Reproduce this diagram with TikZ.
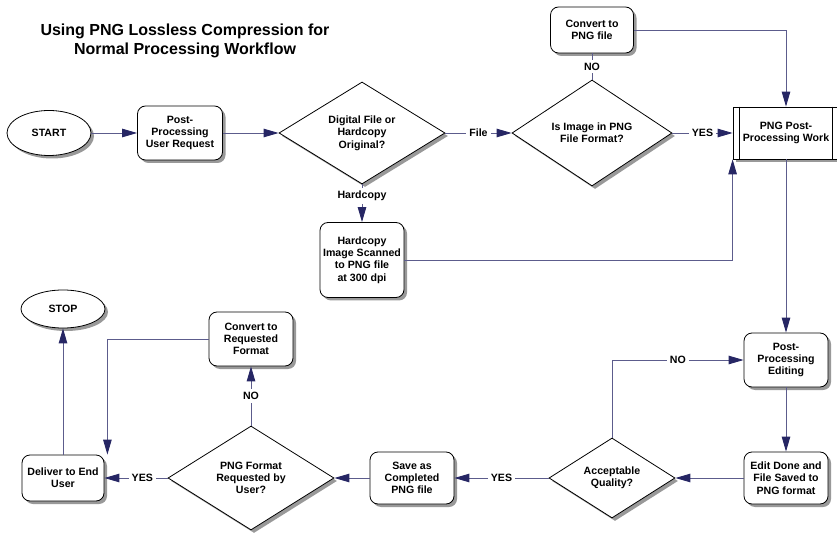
\documentclass[tikz,border=0pt]{standalone}
\usepackage{fontspec}
\setmainfont{Liberation Sans}
\usetikzlibrary{shapes.geometric,shadows,arrows.meta}
\definecolor{flowline}{RGB}{92,92,140}
\definecolor{flowhead}{RGB}{38,38,100}

\begin{document}
\begin{tikzpicture}[x=1pt,y=-1pt]

\tikzset{
    base/.style={
        draw,
        fill=white,
        line width=0.8pt,
        font=\bfseries\fontsize{10.6}{12.3}\selectfont,
        align=center,
        inner sep=0pt,
        drop shadow={shadow xshift=3pt,shadow yshift=-3pt,fill=gray!80,opacity=1},
    },
    term/.style={base, shape=ellipse, minimum width=84pt, minimum height=#1},
    proc/.style args={#1 and #2}{
        base,
        rounded corners=8pt,
        minimum width=#1,
        minimum height=#2,
    },
    dec/.style args={#1 and #2}{
        base,
        shape=diamond,
        minimum width=#1,
        minimum height=#2,
    },
    flow/.style={
        draw=flowline,
        line width=0.9pt,
        -{Triangle[length=15pt,width=8.5pt,color=flowhead]}
    },
    lbl/.style={fill=white, inner sep=3pt, font=\bfseries\fontsize{10.6}{12.3}\selectfont}
}

\useasboundingbox (0,0) rectangle (837,534);

\node(title) [font=\bfseries\fontsize{16}{19}\selectfont, align=center] at (185,41) {Using PNG Lossless Compression for\\Normal Processing Workflow};

% top row
\node(start) [term=45pt] at (49,133) {START};
\node(request) [proc=85pt and 54pt] at (180,133) {Post-\\Processing\\User Request};
\node(origin) [dec=166pt and 102pt] at (362,133) {Digital File or\\Hardcopy\\Original?};
\node(ispng) [dec=160pt and 106pt] at (592,133) {Is Image in PNG\\File Format?};
\node(topng) [proc=83pt and 46pt] at (592,30) {Convert to\\PNG file};
\node(scan) [proc=84pt and 75pt] at (362,260) {Hardcopy\\Image Scanned\\to PNG file\\at 300 dpi};
\node(work) [base, minimum width=106pt, minimum height=52pt] at (786,133) {PNG Post-\\Processing Work};
\draw[line width=1.3pt] ([xshift=7pt]work.north west) -- ([xshift=7pt]work.south west);
\draw[line width=1.3pt] ([xshift=-7pt]work.north east) -- ([xshift=-7pt]work.south east);

% bottom row
\node(edit) [proc=84pt and 54pt] at (786,360) {Post-\\Processing\\Editing};
\node(saved) [proc=84pt and 52pt] at (786,478) {Edit Done and\\File Saved to\\PNG format};
\node(quality) [dec=126pt and 80pt] at (612,478) {Acceptable\\Quality?};
\node(complete) [proc=84pt and 52pt] at (412,478) {Save as\\Completed\\PNG file};
\node(format) [dec=166pt and 104pt] at (251,478) {PNG Format\\Requested by\\User?};
\node(convert) [proc=84pt and 54pt] at (251,339) {Convert to\\Requested\\Format};
\node(deliver) [proc=82pt and 46pt] at (63,478) {Deliver to End\\User};
\node(stop) [term=38pt] at (63,309) {STOP};

\draw[flow] (start) -- (request);
\draw[flow] (request) -- (origin);
\draw[flow] (origin) -- node[lbl] {File} (ispng);
\draw[flow] (origin) -- node[lbl, pos=0.3] {Hardcopy} (scan);
\draw[flow] (ispng) -- node[lbl] {YES} (work);
\draw[draw=flowline, line width=0.9pt] (ispng) -- node[lbl] {NO} (topng);
\draw[flow] (topng) -| (work);
\draw[flow] (scan) -| (work.south west);
\draw[flow] (work) -- (edit);
\draw[flow] (edit) -- (saved);
\draw[flow] (saved) -- (quality);
\draw[flow] (quality) |- node[lbl, pos=0.75] {NO} (edit);
\draw[flow] (quality) -- node[lbl] {YES} (complete);
\draw[flow] (complete) -- (format);
\draw[flow] (format) -- node[lbl] {NO} (convert);
\draw[flow] (format) -- node[lbl, pos=0.4] {YES} (deliver);
\draw[flow] (convert) -| ([xshift=3pt]deliver.north east);
\draw[flow] (deliver) -- (stop);

\end{tikzpicture}
\end{document}
